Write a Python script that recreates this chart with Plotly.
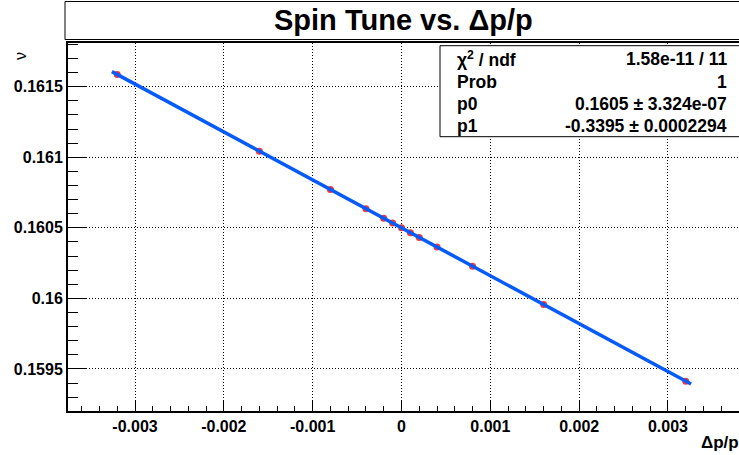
import plotly.graph_objects as go

# ---- data ----
dp_over_p = [-0.0032, -0.0016, -0.0008, -0.0004, -0.0002, -0.0001, 0.0,
             0.0001, 0.0002, 0.0004, 0.0008, 0.0016, 0.0032]
spin_tune = [0.1615864, 0.1610432, 0.1607716, 0.1606358, 0.1605679, 0.1605340, 0.1605000,
             0.1604661, 0.1604321, 0.1603642, 0.1602284, 0.1599568, 0.1594136]

fit_p0 = 0.1605
fit_p1 = -0.3395
fit_range = [-0.00326, 0.00326]

x_tick_vals = [-0.003, -0.002, -0.001, 0.0, 0.001, 0.002, 0.003]
x_tick_text = ["-0.003", "-0.002", "-0.001", "0", "0.001", "0.002", "0.003"]
y_tick_vals = [0.1595, 0.1600, 0.1605, 0.1610, 0.1615]
y_tick_text = ["0.1595", "0.16", "0.1605", "0.161", "0.1615"]

stat_labels = ["χ<sup>2</sup> / ndf", "Prob", "p0", "p1"]
stat_values = ["1.58e-11 / 11", "1", "0.1605 ± 3.324e-07", "-0.3395 ± 0.0002294"]

title_text = "Spin Tune vs. Δp/p"
x_title = "Δp/p"
y_title = "ν"

# ---- layout geometry (pixels) ----
W, H = 739, 455
L, R, T, B = 68, 739, 43, 411


def px(x):
    return (x - L) / (R - L)


def py(y):
    return (B - y) / (B - T)


FONT = "Liberation Sans, Arial, Helvetica, sans-serif"

fit_x = [fit_range[0], fit_range[1]]
fit_y = [fit_p0 + fit_p1 * v for v in fit_x]

fig = go.Figure()
fig.add_trace(go.Scatter(
    x=dp_over_p, y=spin_tune, mode="markers",
    marker=dict(color="rgb(245,55,55)", size=7, line=dict(width=0)),
    showlegend=False, hoverinfo="skip"))
fig.add_trace(go.Scatter(
    x=fit_x, y=fit_y, mode="lines",
    line=dict(color="rgb(5,90,250)", width=3.5),
    showlegend=False, hoverinfo="skip"))

fig.update_layout(
    width=W, height=H,
    margin=dict(l=L, r=W - R, t=T, b=H - B, pad=0),
    paper_bgcolor="white", plot_bgcolor="white",
    font=dict(family=FONT, color="black"),
    showlegend=False,
)

fig.update_xaxes(
    range=[-0.0037543, 0.0037994],
    tickmode="array", tickvals=x_tick_vals, ticktext=x_tick_text,
    ticks="inside", ticklen=11, tickwidth=1, tickcolor="black",
    tickfont=dict(family=FONT, size=16, weight="bold", color="black"),
    showgrid=True, gridcolor="black", gridwidth=1, griddash="1px,2px",
    showline=True, linecolor="black", linewidth=2, mirror=True,
    zeroline=False,
    minor=dict(tickmode="linear", tick0=0, dtick=0.0002, ticks="inside",
               ticklen=5, tickwidth=1, tickcolor="black", showgrid=False),
)
fig.update_yaxes(
    range=[0.1592024, 0.1618096],
    tickmode="array", tickvals=y_tick_vals, ticktext=y_tick_text,
    ticks="inside", ticklen=19, tickwidth=1, tickcolor="black",
    tickfont=dict(family=FONT, size=16, weight="bold", color="black"),
    showgrid=True, gridcolor="black", gridwidth=1, griddash="1px,2px",
    showline=True, linecolor="black", linewidth=2, mirror=False,
    zeroline=False,
    minor=dict(tickmode="linear", tick0=0.1595, dtick=0.0001, ticks="inside",
               ticklen=10, tickwidth=1, tickcolor="black", showgrid=False),
)

shapes = [
    # title box
    dict(type="rect", xref="paper", yref="paper",
         x0=px(65), x1=px(760), y0=py(39.5), y1=py(1.5),
         line=dict(color="black", width=1), fillcolor="white", layer="above"),
    # stats box
    dict(type="rect", xref="paper", yref="paper",
         x0=px(440), x1=px(760), y0=py(136.7), y1=py(45.7),
         line=dict(color="black", width=1), fillcolor="white", layer="above"),
]
fig.update_layout(shapes=shapes)

ann = []
ann.append(dict(text=title_text, xref="paper", yref="paper", x=px(403.5), y=py(20),
                xanchor="center", yanchor="middle", showarrow=False,
                font=dict(family=FONT, size=29, weight="bold", color="black")))
row_y = [59, 81.5, 103.7, 125.8]
for lab, val, yy in zip(stat_labels, stat_values, row_y):
    ann.append(dict(text=lab, xref="paper", yref="paper", x=px(455), y=py(yy),
                    xanchor="left", yanchor="middle", showarrow=False,
                    font=dict(family=FONT, size=17.5, weight="bold", color="black")))
    ann.append(dict(text=val, xref="paper", yref="paper", x=px(728.5), y=py(yy),
                    xanchor="right", yanchor="middle", showarrow=False,
                    font=dict(family=FONT, size=17.5, weight="bold", color="black")))
ann.append(dict(text=x_title, xref="paper", yref="paper", x=px(741), y=py(442),
                xanchor="right", yanchor="middle", showarrow=False,
                font=dict(family=FONT, size=17, weight="bold", color="black")))
ann.append(dict(text=y_title, xref="paper", yref="paper", x=px(20.5), y=py(56.5),
                xanchor="center", yanchor="middle", showarrow=False, textangle=-90,
                font=dict(family=FONT, size=16, color="black")))
fig.update_layout(annotations=ann)

fig.write_html("out.html")
